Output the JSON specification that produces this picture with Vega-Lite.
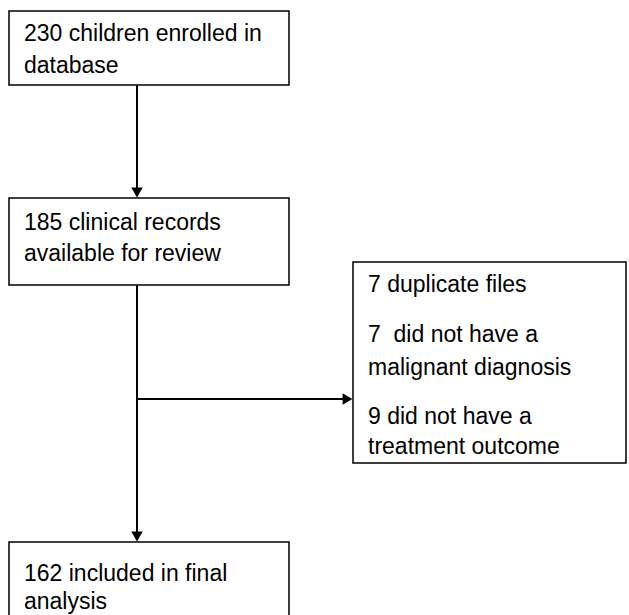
{
  "$schema": "https://vega.github.io/schema/vega-lite/v6.json",
  "width": 629,
  "height": 615,
  "autosize": {"type": "fit", "contains": "padding"},
  "padding": 0,
  "background": "white",
  "config": {"view": {"stroke": null}},
  "datasets": {
    "boxes": [
      {"id": "b1", "x1": 9, "x2": 289, "y1": 11, "y2": 85},
      {"id": "b2", "x1": 9, "x2": 289, "y1": 198, "y2": 285},
      {"id": "b3", "x1": 353, "x2": 626, "y1": 262, "y2": 463},
      {"id": "b4", "x1": 9, "x2": 289, "y1": 542, "y2": 640}
    ],
    "lines": [
      {"x1": 137, "x2": 137, "y1": 85, "y2": 192},
      {"x1": 137, "x2": 137, "y1": 285, "y2": 536},
      {"x1": 137, "x2": 347, "y1": 399, "y2": 399}
    ],
    "heads": [
      {"x": 137, "y": 192.5, "dir": "triangle-down"},
      {"x": 137, "y": 536.5, "dir": "triangle-down"},
      {"x": 347.5, "y": 399, "dir": "triangle-right"}
    ],
    "labels": [
      {"x": 24, "y": 41, "t": "230 children enrolled in"},
      {"x": 24, "y": 73, "t": "database"},
      {"x": 24, "y": 230, "t": "185 clinical records"},
      {"x": 24, "y": 261, "t": "available for review"},
      {"x": 368, "y": 292, "t": "7 duplicate files"},
      {"x": 368, "y": 342, "t": "7\u00a0 did not have a"},
      {"x": 368, "y": 375, "t": "malignant diagnosis"},
      {"x": 368, "y": 424, "t": "9 did not have a"},
      {"x": 368, "y": 454, "t": "treatment outcome"},
      {"x": 24, "y": 581, "t": "162 included in final"},
      {"x": 24, "y": 609, "t": "analysis"}
    ]
  },
  "layer": [
    {
      "data": {"name": "boxes"},
      "mark": {"type": "rect", "fill": "white", "stroke": "black", "strokeWidth": 1.5, "clip": true},
      "encoding": {
        "x": {"field": "x1", "type": "quantitative", "scale": {"domain": [0, 629], "nice": false, "zero": false}, "axis": null},
        "x2": {"field": "x2"},
        "y": {"field": "y1", "type": "quantitative", "scale": {"domain": [615, 0], "nice": false, "zero": false}, "axis": null},
        "y2": {"field": "y2"}
      }
    },
    {
      "data": {"name": "lines"},
      "mark": {"type": "rule", "stroke": "black", "strokeWidth": 2},
      "encoding": {
        "x": {"field": "x1", "type": "quantitative"},
        "x2": {"field": "x2"},
        "y": {"field": "y1", "type": "quantitative"},
        "y2": {"field": "y2"}
      }
    },
    {
      "data": {"name": "heads"},
      "mark": {"type": "point", "filled": true, "fill": "black", "stroke": null, "opacity": 1, "size": 130},
      "encoding": {
        "x": {"field": "x", "type": "quantitative"},
        "y": {"field": "y", "type": "quantitative"},
        "shape": {"field": "dir", "type": "nominal", "scale": null, "legend": null}
      }
    },
    {
      "data": {"name": "labels"},
      "mark": {"type": "text", "align": "left", "baseline": "alphabetic", "font": "Liberation Sans", "fontSize": 23, "color": "black"},
      "encoding": {
        "x": {"field": "x", "type": "quantitative"},
        "y": {"field": "y", "type": "quantitative"},
        "text": {"field": "t"}
      }
    }
  ]
}
